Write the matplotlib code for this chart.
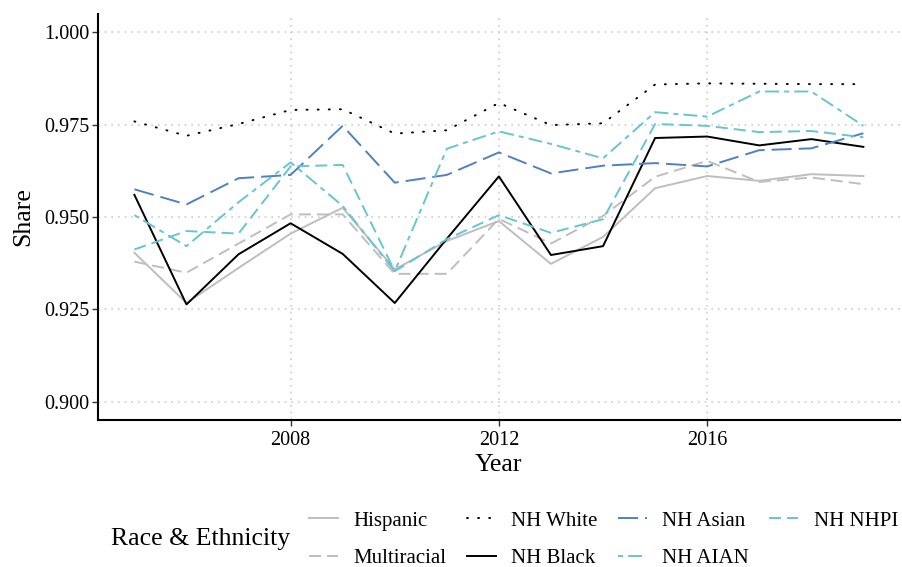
import matplotlib
matplotlib.use("Agg")
import matplotlib.pyplot as plt
from matplotlib.lines import Line2D

plt.rcParams["font.family"] = ["Liberation Serif", "DejaVu Serif"]

years = list(range(2005, 2020))

hispanic = [0.9403, 0.9267, 0.9362, 0.9455, 0.9525, 0.9358, 0.9435, 0.9489, 0.9373, 0.9446,
            0.9578, 0.9611, 0.9598, 0.9616, 0.9611]
multiracial = [0.9379, 0.9349, 0.9428, 0.9507, 0.9507, 0.9346, 0.9346, 0.9495, 0.9428, 0.9503,
               0.9609, 0.9652, 0.9595, 0.9607, 0.9589]
nh_white = [0.9759, 0.9720, 0.9752, 0.9790, 0.9792, 0.9726, 0.9735, 0.9809, 0.9749, 0.9754,
            0.9859, 0.9862, 0.9861, 0.9860, 0.9860]
nh_black = [0.9560, 0.9263, 0.9399, 0.9483, 0.9400, 0.9267, 0.9441, 0.9610, 0.9397, 0.9421,
            0.9714, 0.9718, 0.9694, 0.9711, 0.9690]
nh_asian = [0.9575, 0.9534, 0.9605, 0.9614, 0.9747, 0.9593, 0.9614, 0.9675, 0.9618, 0.9639,
            0.9646, 0.9637, 0.9681, 0.9686, 0.9727]
nh_aian = [0.9505, 0.9421, 0.9540, 0.9648, 0.9530, 0.9353, 0.9685, 0.9732, 0.9698, 0.9659,
           0.9784, 0.9772, 0.9840, 0.9840, 0.9747]
nh_nhpi = [0.9412, 0.9462, 0.9455, 0.9637, 0.9641, 0.9353, 0.9440, 0.9505, 0.9457, 0.9494,
           0.9752, 0.9747, 0.9730, 0.9733, 0.9716]

LW = 1.4
dashed = (0, (6.2, 3.1))
longdash = (0, (10.3, 3.6))
twodash = (0, (2.6, 2.6, 7.2, 2.6))
dotted = (0, (0.5, 5.2))

series = [
    ("Hispanic", hispanic, "#BEBEBE", "-"),
    ("Multiracial", multiracial, "#BEBEBE", dashed),
    ("NH White", nh_white, "black", dotted),
    ("NH Black", nh_black, "black", "-"),
    ("NH Asian", nh_asian, "#4F80C2", longdash),
    ("NH AIAN", nh_aian, "#66C5D0", twodash),
    ("NH NHPI", nh_nhpi, "#66C5D0", dashed),
]

fig = plt.figure(figsize=(9.02, 5.67), dpi=100)
ax = fig.add_axes([0.1086, 0.2593, 0.889, 0.7160])

handles = []
for name, vals, color, ls in series:
    cap = "round" if ls is dotted else "butt"
    ax.plot(years, vals, color=color, linestyle=ls, linewidth=LW, dash_capstyle=cap)
    handles.append(Line2D([0], [0], color=color, linestyle=ls, linewidth=LW,
                          dash_capstyle=cap, label=name))

ax.set_xlim(2004.3, 2019.7)
ax.set_ylim(0.895, 1.005)
ax.set_xticks([2008, 2012, 2016])
ax.set_yticks([0.900, 0.925, 0.950, 0.975, 1.000])
ax.set_yticklabels(["0.900", "0.925", "0.950", "0.975", "1.000"])
ax.grid(True, color="#CCCCCC", linestyle=(0, (1, 3)), linewidth=1.2)
ax.set_axisbelow(True)

for side in ["top", "right"]:
    ax.spines[side].set_visible(False)
for side in ["left", "bottom"]:
    ax.spines[side].set_linewidth(1.5)
ax.tick_params(axis="both", labelsize=14.5, length=4, width=1.0, color="#333333", pad=2)
ax.tick_params(axis="x", pad=4)

ax.set_xlabel("Year", fontsize=18.5, labelpad=3)
ax.set_ylabel("Share", fontsize=18.5, labelpad=7)

fig.text(0.2228, 0.0494, "Race & Ethnicity", fontsize=18.5, ha="center", va="center")
fig.legend(handles=handles, ncol=4, loc="center left", bbox_to_anchor=(0.3426, 0.0485),
           frameon=False, fontsize=15, handlelength=1.4, handletextpad=0.75,
           columnspacing=0.95, labelspacing=0.85, borderaxespad=0, borderpad=0)

fig.savefig("out.png", dpi=100)
